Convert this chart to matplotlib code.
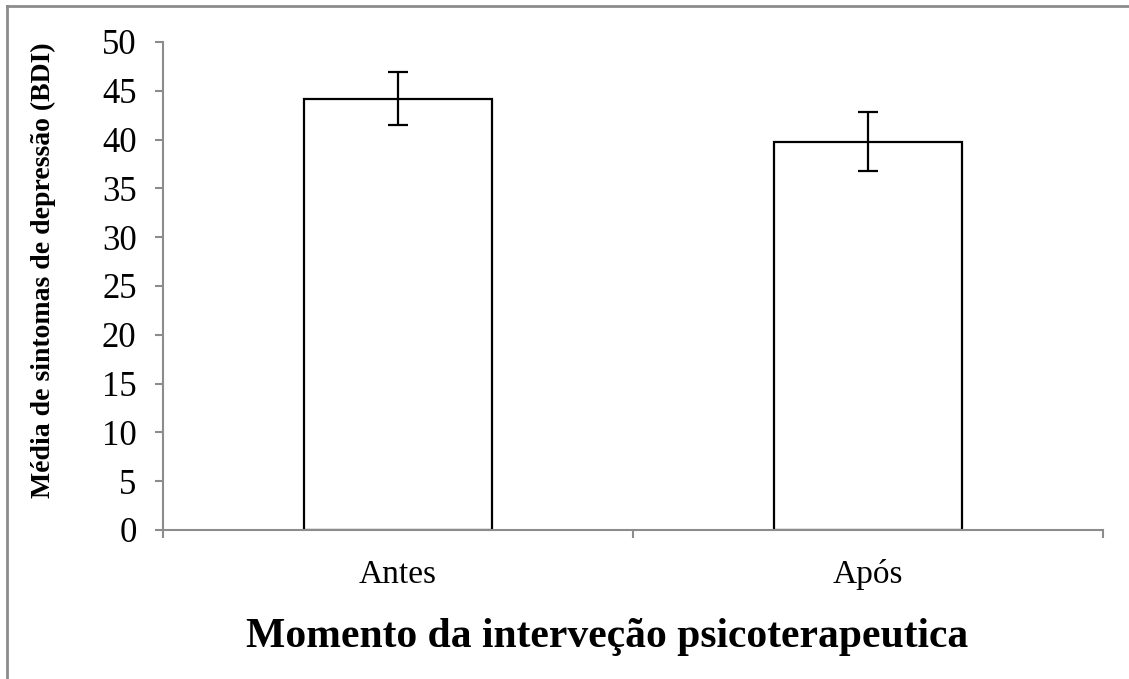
import matplotlib
matplotlib.use("Agg")
import matplotlib.pyplot as plt
from matplotlib.lines import Line2D

categories = ["Antes", "Após"]
means = [44.2, 39.8]
errors = [2.7, 3.0]
yticks = [0, 5, 10, 15, 20, 25, 30, 35, 40, 45, 50]

W, H = 1129, 679
fig = plt.figure(figsize=(W / 100, H / 100), dpi=100)
fig.patch.set_facecolor("white")
ax = fig.add_axes([163 / W, 1 - 530 / H, (1103 - 163) / W, (530 - 42) / H])

grey = "#8c8c8c"
serif = ["Liberation Serif", "DejaVu Serif"]

x = list(range(len(categories)))
ax.bar(x, means, width=0.4, color="white", edgecolor="black", linewidth=1.6,
       zorder=2)
ax.errorbar(x, means, yerr=errors, fmt="none", ecolor="black", elinewidth=1.6,
            capsize=7, capthick=1.6, zorder=3)

ax.set_xlim(-0.5, len(categories) - 0.5)
ax.set_ylim(0, 50)
ax.set_yticks(yticks)
ax.set_yticklabels([str(v) for v in yticks], family=serif, fontsize=25)
ax.set_xticks(x)
ax.set_xticklabels(categories, family=serif, fontsize=24)
ax.set_xticks([i - 0.5 for i in range(len(categories) + 1)], minor=True)
ax.tick_params(axis="x", which="major", length=0, pad=21)
ax.tick_params(axis="x", which="minor", length=6, width=1.5, color=grey,
               direction="out")
ax.tick_params(axis="y", length=6, width=1.5, color=grey, direction="out",
               pad=13)

for s in ["top", "right"]:
    ax.spines[s].set_visible(False)
for s in ["left", "bottom"]:
    ax.spines[s].set_color(grey)
    ax.spines[s].set_linewidth(1.5)

fig.text(43 / W, 1 - 270 / H, "Média de sintomas de depressão (BDI)",
         rotation=90, ha="center", va="center", family=serif,
         fontweight="bold", fontsize=20)
fig.text(607 / W, 1 - 637 / H, "Momento da interveção psicoterapeutica",
         ha="center", va="center", family=serif, fontweight="bold",
         fontsize=30)

# outer frame (left and top edges)
fig.add_artist(Line2D([7 / W, 7 / W], [0, 1 - 6 / H], color=grey,
                      linewidth=2, transform=fig.transFigure))
fig.add_artist(Line2D([7 / W, 1], [1 - 6 / H, 1 - 6 / H], color=grey,
                      linewidth=2, transform=fig.transFigure))

fig.savefig("out.png", dpi=100, facecolor="white")
